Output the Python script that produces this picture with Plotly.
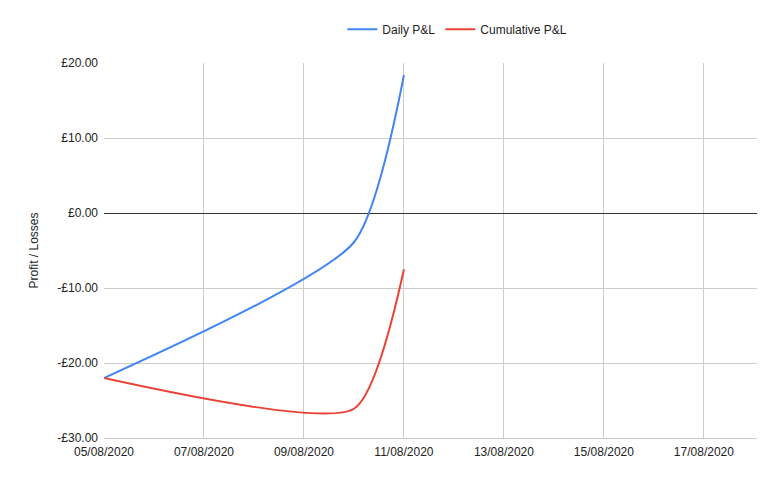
import plotly.graph_objects as go

dates = ["2020-08-05", "2020-08-10", "2020-08-11"]
daily_pnl = [-22.0, -3.9, 18.4]
cumulative_pnl = [-22.0, -26.1, -7.5]
y_ticks = [-30, -20, -10, 0, 10, 20]
y_tick_labels = [("-£%.2f" % abs(v)) if v < 0 else ("£%.2f" % v) for v in y_ticks]

fig = go.Figure()
fig.add_trace(go.Scatter(x=dates, y=daily_pnl, name="Daily P&L", mode="lines",
                         line=dict(color="#4285f4", width=2, shape="spline", smoothing=0.6)))
fig.add_trace(go.Scatter(x=dates, y=cumulative_pnl, name="Cumulative P&L", mode="lines",
                         line=dict(color="#ea4335", width=2, shape="spline", smoothing=0.6)))

fig.update_layout(
    width=773, height=475,
    margin=dict(l=96, r=24, t=55, b=45, autoexpand=False),
    paper_bgcolor="white", plot_bgcolor="white",
    font=dict(family="Liberation Sans, Arial, sans-serif", size=12, color="#222222"),
    showlegend=True,
    legend=dict(orientation="h", x=0.365, xanchor="left", y=1.09, yanchor="middle",
                font=dict(size=12, color="#222222"), itemwidth=30),
    xaxis=dict(type="date", range=["2020-08-05", "2020-08-18 01:30"],
               tick0="2020-08-05", dtick=2 * 86400000, tickformat="%d/%m/%Y",
               showgrid=True, gridcolor="#cccccc", gridwidth=1,
               showline=True, linecolor="#cccccc", linewidth=1,
               zeroline=False, ticks="", ticklabelstandoff=3,
               tickfont=dict(size=12, color="#222222")),
    yaxis=dict(range=[-30, 20], tickvals=y_ticks, ticktext=y_tick_labels,
               showgrid=True, gridcolor="#cccccc", gridwidth=1,
               zeroline=True, zerolinecolor="#333333", zerolinewidth=1,
               showline=False, ticks="", ticklen=0, ticklabelstandoff=5,
               title=dict(text="Profit / Losses", font=dict(size=12, color="#222222"), standoff=16),
               tickfont=dict(size=12, color="#222222")),
)

fig.write_html("out.html")
